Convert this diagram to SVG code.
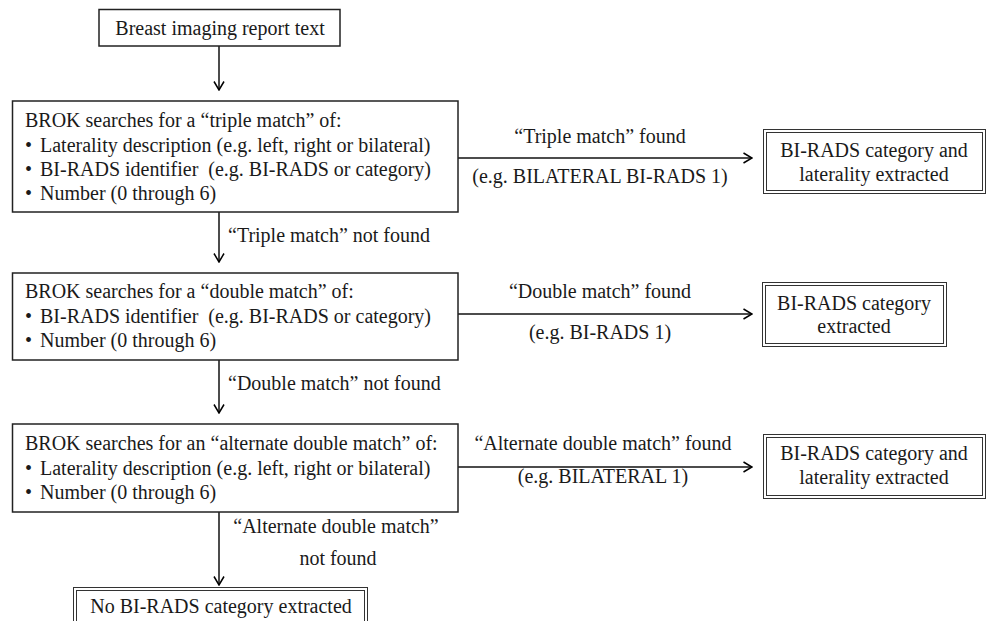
<svg xmlns="http://www.w3.org/2000/svg" width="987" height="621" viewBox="0 0 987 621">
<defs>
<marker id="arr" viewBox="0 0 10 12" refX="9.5" refY="6" markerWidth="10" markerHeight="12" markerUnits="userSpaceOnUse" orient="auto">
<path d="M1,1 L9.5,6 L1,11" fill="none" stroke="#000" stroke-width="1.5"/>
</marker>
<style>
text{font-family:"Liberation Serif","Times New Roman",serif;font-size:20px;fill:#1a1a1a;white-space:pre}
.c{text-anchor:middle}
.box{fill:#fff;stroke:#222;stroke-width:1.5}
.dbl{fill:none;stroke:#333;stroke-width:1}
.ln{fill:none;stroke:#111;stroke-width:1.5}
</style>
</defs>
<rect width="987" height="621" fill="#fff"/>
<g id="connectors">
<line class="ln" x1="219" y1="46" x2="219" y2="90" marker-end="url(#arr)"/>
<line class="ln" x1="458" y1="158" x2="752" y2="158" marker-end="url(#arr)"/>
<text class="c" x="600" y="143">“Triple match” found</text>
<text class="c" x="600" y="183">(e.g. BILATERAL BI-RADS 1)</text>
<line class="ln" x1="219" y1="212" x2="219" y2="262" marker-end="url(#arr)"/>
<text x="228" y="242">“Triple match” not found</text>
<line class="ln" x1="458" y1="314" x2="752" y2="314" marker-end="url(#arr)"/>
<text class="c" x="600" y="298">“Double match” found</text>
<text class="c" x="600" y="339">(e.g. BI-RADS 1)</text>
<line class="ln" x1="219" y1="360" x2="219" y2="413" marker-end="url(#arr)"/>
<text x="228" y="390">“Double match” not found</text>
<line class="ln" x1="458" y1="467" x2="752" y2="467" marker-end="url(#arr)"/>
<text class="c" x="603" y="450">“Alternate double match” found</text>
<text class="c" x="603" y="483">(e.g. BILATERAL 1)</text>
<line class="ln" x1="219" y1="512" x2="219" y2="585" marker-end="url(#arr)"/>
<text class="c" x="336" y="533">“Alternate double match”</text>
<text class="c" x="338" y="565">not found</text>
</g>
<g id="start">
<rect class="box" x="99" y="9.5" width="241" height="36.5"/>
<text class="c" x="220" y="35">Breast imaging report text</text>
</g>
<g id="triple">
<rect class="box" x="12.5" y="101" width="445.5" height="111"/>
<text x="25" y="127">BROK searches for a “triple match” of:</text>
<text y="152"><tspan x="25">•</tspan><tspan x="40">Laterality description (e.g. left, right or bilateral)</tspan></text>
<text y="176"><tspan x="25">•</tspan><tspan x="40">BI-RADS identifier  (e.g. BI-RADS or category)</tspan></text>
<text y="200"><tspan x="25">•</tspan><tspan x="40">Number (0 through 6)</tspan></text>
</g>
<g id="double">
<rect class="box" x="12.5" y="273" width="445.5" height="87"/>
<text x="25" y="298">BROK searches for a “double match” of:</text>
<text y="323"><tspan x="25">•</tspan><tspan x="40">BI-RADS identifier  (e.g. BI-RADS or category)</tspan></text>
<text y="347"><tspan x="25">•</tspan><tspan x="40">Number (0 through 6)</tspan></text>
</g>
<g id="alternate">
<rect class="box" x="12.5" y="424" width="445.5" height="88"/>
<text x="25" y="450">BROK searches for an “alternate double match” of:</text>
<text y="475"><tspan x="25">•</tspan><tspan x="40">Laterality description (e.g. left, right or bilateral)</tspan></text>
<text y="499"><tspan x="25">•</tspan><tspan x="40">Number (0 through 6)</tspan></text>
</g>
<g id="out1">
<rect class="dbl" x="763.5" y="129.5" width="222" height="64"/>
<rect class="dbl" x="766.5" y="132.5" width="216" height="58"/>
<text class="c" x="874" y="157">BI-RADS category and</text>
<text class="c" x="874" y="181">laterality extracted</text>
</g>
<g id="out2">
<rect class="dbl" x="762.5" y="282.5" width="184" height="64"/>
<rect class="dbl" x="765.5" y="285.5" width="178" height="58"/>
<text class="c" x="854" y="310">BI-RADS category</text>
<text class="c" x="854" y="333">extracted</text>
</g>
<g id="out3">
<rect class="dbl" x="763.5" y="434.5" width="222" height="64"/>
<rect class="dbl" x="766.5" y="437.5" width="216" height="58"/>
<text class="c" x="874" y="460">BI-RADS category and</text>
<text class="c" x="874" y="484">laterality extracted</text>
</g>
<g id="none">
<rect class="dbl" x="73.5" y="587.5" width="294" height="60"/>
<rect class="dbl" x="76.5" y="590.5" width="288" height="54"/>
<text class="c" x="221" y="613">No BI-RADS category extracted</text>
</g>
</svg>
